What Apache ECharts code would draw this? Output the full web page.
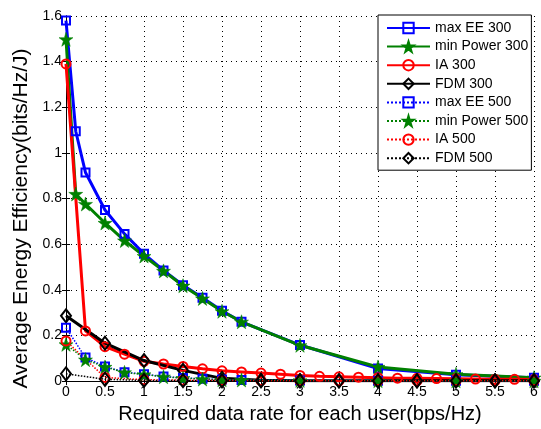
<!DOCTYPE html>
<html>
<head>
<meta charset="utf-8">
<script src="https://cdn.jsdelivr.net/npm/echarts@6/dist/echarts.min.js"></script>
<style>
  html, body { margin: 0; padding: 0; background: #fff; }
  #chart { width: 541px; height: 429px; }
</style>
</head>
<body>
<div id="chart"></div>
<script>
// x positions of the markers
const xEE300 = [0, 0.125, 0.25, 0.5, 0.75, 1, 1.25, 1.5, 1.75, 2, 2.25, 3, 4, 5, 6]
const xIA300 = [0, 0.25, 0.5, 0.75, 1, 1.25, 1.5, 1.75, 2, 2.25, 2.5, 2.75, 3, 3.25, 3.5, 3.75, 4, 4.25, 4.5, 4.75, 5, 5.25, 5.5, 5.75, 6]
const xHalf = [0, 0.5, 1, 1.5, 2, 2.5, 3, 3.5, 4, 4.5, 5, 5.5, 6]
const xEE500 = [0, 0.25, 0.5, 0.75, 1, 1.25, 1.5, 1.75, 2, 2.25, 3, 4, 5, 6]

// energy efficiency values
const maxEE300 = [1.58, 1.095, 0.914, 0.75, 0.645, 0.558, 0.485, 0.42, 0.365, 0.308, 0.26, 0.158, 0.055, 0.028, 0.015]
const minPower300 = [1.498, 0.82, 0.776, 0.693, 0.616, 0.548, 0.483, 0.418, 0.362, 0.306, 0.26, 0.157, 0.062, 0.03, 0.015]
const ia300 = [1.39, 0.22, 0.151, 0.118, 0.087, 0.075, 0.064, 0.054, 0.045, 0.04, 0.035, 0.03, 0.025, 0.021, 0.019, 0.017, 0.015, 0.013, 0.012, 0.011, 0.01, 0.009, 0.008, 0.008, 0.007]
const fdm300 = [0.286, 0.166, 0.09, 0.047, 0.012, 0.004, 0.002, 0.001, 0.001, 0.001, 0.001, 0.001, 0.001]
const maxEE500 = [0.234, 0.103, 0.064, 0.039, 0.03, 0.02, 0.014, 0.01, 0.007, 0.005, 0.003, 0.002, 0.001, 0.001]
const minPower500 = [0.161, 0.094, 0.062, 0.038, 0.029, 0.019, 0.013, 0.009, 0.006, 0.005, 0.003, 0.002, 0.001, 0.001]
const ia500 = [0.176, 0.016, 0.006, 0.004, 0.003, 0.002, 0.002, 0.001, 0.001, 0.001, 0.001, 0.001, 0.001]
const fdm500 = [0.032, 0.008, 0.003, 0.002, 0.001, 0.001, 0.001, 0.001, 0.001, 0.001, 0.001, 0.001, 0.001]

const names = ['max EE 300', 'min Power 300', 'IA 300', 'FDM 300', 'max EE 500', 'min Power 500', 'IA 500', 'FDM 500']

const star = 'path://M50,0 L61,35 L98,35 L68,57 L79,91 L50,70 L21,91 L32,57 L2,35 L39,35 Z'
const font = 'Liberation Sans, Arial, Helvetica, sans-serif'

function pairs (xs, ys) {
  return xs.map((x, i) => [x, ys[i]])
}

function makeSeries (name, xs, ys, color, symbol, size, dotted, filled) {
  return {
    name: name,
    type: 'line',
    data: pairs(xs, ys),
    symbol: symbol,
    symbolSize: size,
    showAllSymbol: true,
    animation: false,
    lineStyle: {
      color: color,
      width: dotted ? 1.5 : 3,
      type: dotted ? 'dotted' : 'solid'
    },
    itemStyle: {
      color: filled ? color : 'rgba(255,255,255,0)',
      borderColor: color,
      borderWidth: filled ? 0.5 : 2
    }
  }
}

let myChart = echarts.init(document.getElementById('chart'))

const axisCommon = {
  axisLine: { show: true, lineStyle: { color: '#000', width: 1 } },
  axisTick: { show: true, inside: true, length: 4, lineStyle: { color: '#000' } }
}

myChart.setOption({
  backgroundColor: '#fff',
  animation: false,
  grid: { left: 66, right: 7, top: 16, bottom: 46 },
  legend: {
    data: names,
    orient: 'vertical',
    left: 378,
    top: 15,
    padding: [6, 3, 5, 8],
    itemWidth: 43,
    itemHeight: 13,
    itemGap: 4.6,
    backgroundColor: '#fff',
    borderColor: '#000',
    borderWidth: 1,
    textStyle: { fontFamily: font, fontSize: 14, color: '#000' }
  },
  xAxis: [
    Object.assign({
      type: 'value',
      min: 0,
      max: 6,
      interval: 0.5,
      name: 'Required data rate for each user(bps/Hz)',
      nameLocation: 'middle',
      nameGap: 19,
      nameTextStyle: { fontFamily: font, fontSize: 20, color: '#000' },
      axisLabel: { fontFamily: font, fontSize: 14, color: '#000', margin: 4 },
      splitLine: { show: true, lineStyle: { color: '#000', type: [1, 4], width: 1 } }
    }, axisCommon),
    Object.assign({
      type: 'value',
      position: 'top',
      min: 0,
      max: 6,
      interval: 0.5,
      axisLabel: { show: false },
      splitLine: { show: false }
    }, axisCommon)
  ],
  yAxis: [
    Object.assign({
      type: 'value',
      min: 0,
      max: 1.6,
      interval: 0.2,
      name: 'Average Energy Efficiency(bits/Hz/J)',
      nameLocation: 'middle',
      nameGap: 31,
      nameTextStyle: { fontFamily: font, fontSize: 21, color: '#000', padding: [0, 40, 0, 0] },
      axisLabel: { fontFamily: font, fontSize: 14, color: '#000', margin: 4 },
      splitLine: { show: true, lineStyle: { color: '#000', type: [1, 4], width: 1 } }
    }, axisCommon),
    Object.assign({
      type: 'value',
      position: 'right',
      min: 0,
      max: 1.6,
      interval: 0.2,
      axisLabel: { show: false },
      splitLine: { show: false }
    }, axisCommon)
  ],
  series: [
    makeSeries(names[0], xEE300, maxEE300, '#0000ff', 'rect', 8, false, false),
    makeSeries(names[1], xEE300, minPower300, '#008000', star, 14, false, true),
    makeSeries(names[2], xIA300, ia300, '#ff0000', 'circle', 9, false, false),
    makeSeries(names[3], xHalf, fdm300, '#000000', 'diamond', [10, 13], false, false),
    makeSeries(names[4], xEE500, maxEE500, '#0000ff', 'rect', 8, true, false),
    makeSeries(names[5], xEE500, minPower500, '#008000', star, 14, true, true),
    makeSeries(names[6], xHalf, ia500, '#ff0000', 'circle', 9, true, false),
    makeSeries(names[7], xHalf, fdm500, '#000000', 'diamond', [10, 13], true, false)
  ]
})
</script>
</body>
</html>
